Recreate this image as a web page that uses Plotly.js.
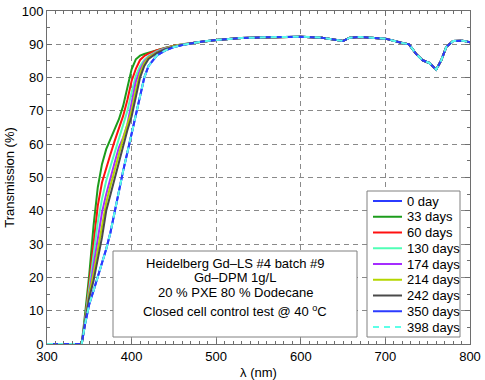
<!DOCTYPE html>
<html>
<head>
<meta charset="utf-8">
<script src="https://cdn.plot.ly/plotly-3.0.1.min.js"></script>
<style>
  html, body { margin: 0; padding: 0; background: #fff; }
  #chart { width: 485px; height: 380px; }
</style>
</head>
<body>
<div id="chart"></div>
<script>
// wavelength grid (nm) shared by all spectra
const wavelengthNm = [300, 341, 345, 350, 355, 360, 365, 370, 375, 380, 385, 390, 395, 400, 405, 410, 415, 420, 430, 440, 450, 460,
  470, 480, 500, 530, 560, 600, 625, 640, 650, 658, 670, 700, 710, 720, 728, 736, 744, 752, 760, 766, 772, 780, 791, 800];

// absorption edge part (300 - 460 nm), one array per measurement
const riseDay0   = [0, 0, 6, 12, 16, 20, 24, 28.5, 33.5, 40, 46.5, 52, 57.5, 63, 69, 74.5, 80, 83.5, 86.7, 88.2, 89.2, 89.8];
const riseDay33  = [0, 0, 9, 21, 35.5, 47, 54, 58.5, 61.5, 64.5, 67.5, 71.5, 77.5, 82.5, 85.5, 86.6, 87.1, 87.5, 88.3, 89.0, 89.6, 90.0];
const riseDay60  = [0, 0, 7, 18.5, 30.5, 41.5, 48.5, 53, 57, 61, 64.6, 68.5, 73.3, 79, 82.6, 85.3, 86.5, 87.2, 88.2, 89.0, 89.6, 90.0];
const riseDay130 = [0, 0, 7, 17, 26.5, 36.5, 43.5, 49, 53.3, 57.5, 61.7, 65.8, 70, 75.5, 80.5, 83.5, 85.3, 86.5, 87.9, 88.8, 89.5, 90.0];
const riseDay174 = [0, 0, 7, 16, 23.5, 31.5, 39.5, 45, 50, 54.5, 59, 62, 66, 72.5, 78.8, 82.3, 84.8, 86.2, 87.7, 88.7, 89.4, 89.9];
const riseDay214 = [0, 0, 6.5, 15, 21, 28, 36, 42.5, 47.5, 52.5, 57, 61.7, 65.8, 70, 76.3, 81.3, 84.3, 86, 87.6, 88.6, 89.4, 89.9];
const riseDay242 = [0, 0, 6.5, 14, 19, 25, 32, 40, 45, 50, 55, 60, 64.2, 68.3, 73.8, 80, 83.5, 85.6, 87.4, 88.5, 89.3, 89.9];
const riseDay350 = [0, 0, 6, 12, 16, 20, 24, 28.5, 33.5, 40, 46.5, 52, 57.5, 63, 69, 74.5, 80, 83.5, 86.7, 88.2, 89.2, 89.8];
const riseDay398 = [0, 0, 6, 12, 16, 20, 24, 28.5, 33.5, 40, 46.5, 52, 57.5, 63, 69, 74.5, 80, 83.5, 86.7, 88.2, 89.2, 89.8];

// 470 - 800 nm: all measurements overlap
const plateauT = [90.3, 90.7, 91.3, 91.9, 92.1, 92.3, 92.0, 91.5, 91.0, 92.0, 92.2, 91.7, 91.0, 90.4, 90.0, 87.2, 85.2, 84.4, 82.4, 85.2, 89.2, 91.0, 91.1, 90.6];

const seriesNames = ['0 day', '33 days', '60 days', '130 days', '174 days', '214 days', '242 days', '350 days', '398 days'];
const seriesRise = [riseDay0, riseDay33, riseDay60, riseDay130, riseDay174, riseDay214, riseDay242, riseDay350, riseDay398];
const seriesColors = ['#2b3bff', '#1c9c1c', '#ff1010', '#50ffb6', '#a52cff', '#b4d600', '#4a4a4a', '#2b3bff', '#5cffe8'];
const seriesDash = ['solid', 'solid', 'solid', 'solid', 'solid', 'solid', 'solid', 'solid', 'dash'];

const infoLines = ['Heidelberg Gd\u2013LS #4 batch #9', 'Gd\u2013DPM 1g/L', '20 % PXE 80 % Dodecane',
  'Closed cell control test @ 40 <sup>o</sup>C'];

const FONT = 'Liberation Sans, Arial, sans-serif';
const AX = '#6e6e6e';

// pixel -> paper helpers (plot area 47..470 x 11..344)
const px = x => (x - 47) / 423;
const py = y => (344 - y) / 333;

const traces = seriesNames.map((name, i) => ({
  x: wavelengthNm,
  y: seriesRise[i].concat(plateauT),
  type: 'scatter',
  mode: 'lines',
  name: name,
  line: { color: seriesColors[i], width: 2, dash: seriesDash[i] === 'dash' ? '6px,5px' : 'solid' },
  hoverinfo: 'skip'
}));

const shapes = [];
const annotations = [];

// info box
shapes.push({ type: 'rect', xref: 'paper', yref: 'paper', x0: px(113), x1: px(357), y0: py(337), y1: py(251),
  line: { color: '#808080', width: 1 }, fillcolor: '#fff', layer: 'above' });
const infoY = [263, 277, 292, 311];
infoLines.forEach((t, i) => annotations.push({
  xref: 'paper', yref: 'paper', x: px(235), y: py(infoY[i]), text: t, showarrow: false,
  xanchor: 'center', yanchor: 'middle', font: { family: FONT, size: 13, color: '#000' }
}));

// legend box
shapes.push({ type: 'rect', xref: 'paper', yref: 'paper', x0: px(367), x1: px(460), y0: py(337), y1: py(191),
  line: { color: '#808080', width: 1 }, fillcolor: '#fff', layer: 'above' });
seriesNames.forEach((name, i) => {
  const rowY = 201 + i * 15.75;
  shapes.push({ type: 'line', xref: 'paper', yref: 'paper', x0: px(373), x1: px(402), y0: py(rowY), y1: py(rowY),
    line: { color: seriesColors[i], width: 2, dash: seriesDash[i] === 'dash' ? '6px,5px' : 'solid' }, layer: 'above' });
  annotations.push({ xref: 'paper', yref: 'paper', x: px(405), y: py(rowY), text: name, showarrow: false,
    xanchor: 'left', yanchor: 'middle', font: { family: FONT, size: 13, color: '#000' } });
});

const axisCommon = {
  ticks: 'inside', ticklen: 5, tickcolor: AX, tickwidth: 1,
  showline: true, linecolor: AX, linewidth: 1, mirror: 'ticks',
  showgrid: true, gridcolor: '#8a8a8a', gridwidth: 1, griddash: '5px,4px',
  zeroline: false, automargin: false,
  tickfont: { family: FONT, size: 13, color: '#000' }
};

const layout = {
  width: 485, height: 380,
  margin: { l: 47, r: 15, t: 11, b: 36 },
  paper_bgcolor: '#fff', plot_bgcolor: '#fff',
  showlegend: false,
  font: { family: FONT, size: 13, color: '#000' },
  xaxis: Object.assign({}, axisCommon, {
    range: [300, 800], tick0: 300, dtick: 100,
    minor: { dtick: 10, ticks: 'inside', ticklen: 3, tickcolor: AX, showgrid: false },
    title: { text: '\u03bb (nm)', font: { family: FONT, size: 13, color: '#000' }, standoff: 5 }
  }),
  yaxis: Object.assign({}, axisCommon, {
    range: [0, 100], tick0: 0, dtick: 10,
    minor: { dtick: 5, ticks: 'inside', ticklen: 3, tickcolor: AX, showgrid: false },
    title: { text: 'Transmission (%)', font: { family: FONT, size: 13, color: '#000' }, standoff: 4 }
  }),
  shapes: shapes,
  annotations: annotations
};

Plotly.newPlot('chart', traces, layout, { displayModeBar: false, staticPlot: true });
</script>
</body>
</html>
